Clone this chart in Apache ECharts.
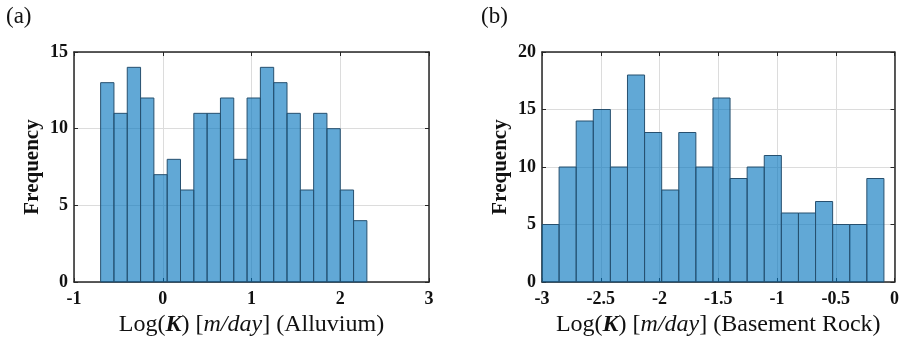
<!DOCTYPE html>
<html>
<head>
<meta charset="utf-8">
<script src="https://cdn.jsdelivr.net/npm/echarts@6/dist/echarts.min.js"></script>
<style>
  html, body { margin: 0; padding: 0; background: #fff; }
  #chart { width: 902px; height: 345px; }
</style>
</head>
<body>
<div id="chart"></div>
<script>
// histogram (a): alluvium
const alluviumBinStart = -0.7;
const alluviumBinWidth = 0.15;
const alluviumCounts = [13, 11, 14, 12, 7, 8, 6, 11, 11, 12, 8, 12, 14, 13, 11, 6, 11, 10, 6, 4];

// histogram (b): basement rock
const basementBinStart = -3.0;
const basementBinWidth = 0.1455;
const basementCounts = [5, 10, 14, 15, 10, 18, 13, 8, 13, 10, 16, 9, 10, 11, 6, 6, 7, 5, 5, 9];

const alluviumXTicks = [-1, 0, 1, 2, 3];
const basementXTicks = [-3, -2.5, -2, -1.5, -1, -0.5, 0];
const alluviumYTicks = [0, 5, 10, 15];
const basementYTicks = [0, 5, 10, 15, 20];

const serif = '"Liberation Serif", "DejaVu Serif", serif';

function toBins(start, width, counts) {
  return counts.map((c, i) => [start + i * width, start + (i + 1) * width, c]);
}

function renderBin(params, api) {
  const lo = api.coord([api.value(0), 0]);
  const hi = api.coord([api.value(1), api.value(2)]);
  return {
    type: 'rect',
    shape: { x: lo[0], y: hi[1], width: hi[0] - lo[0], height: lo[1] - hi[1] },
    style: { fill: 'rgba(0, 114, 189, 0.62)', stroke: '#27506f', lineWidth: 1 }
  };
}

function xAxes(gridIndex, ticks, name) {
  const base = {
    gridIndex,
    type: 'value',
    min: ticks[0],
    max: ticks[ticks.length - 1],
    interval: ticks[1] - ticks[0],
    axisLine: { show: true, onZero: false, lineStyle: { color: '#262626', width: 1.5 } },
    axisTick: { show: true, inside: true, length: 4, lineStyle: { color: '#262626' } }
  };
  return [
    Object.assign({}, base, {
      position: 'bottom',
      axisLabel: { fontFamily: serif, fontWeight: 'bold', fontSize: 18, color: '#111', margin: 8 },
      splitLine: { show: true, lineStyle: { color: '#dcdcdc', width: 1 } },
      name,
      nameLocation: 'middle',
      nameGap: 30,
      nameTextStyle: {
        fontFamily: serif, fontSize: 24, color: '#111',
        rich: {
          n: { fontFamily: serif, fontSize: 24, color: '#111' },
          k: { fontFamily: serif, fontSize: 24, color: '#111', fontWeight: 'bold', fontStyle: 'italic' },
          i: { fontFamily: serif, fontSize: 24, color: '#111', fontStyle: 'italic' }
        }
      }
    }),
    Object.assign({}, base, {
      position: 'top',
      z: 5,
      axisLabel: { show: false },
      splitLine: { show: false }
    })
  ];
}

function yAxes(gridIndex, ticks) {
  const base = {
    gridIndex,
    type: 'value',
    min: ticks[0],
    max: ticks[ticks.length - 1],
    interval: ticks[1] - ticks[0],
    axisLine: { show: true, onZero: false, lineStyle: { color: '#262626', width: 1.5 } },
    axisTick: { show: true, inside: true, length: 4, lineStyle: { color: '#262626' } }
  };
  return [
    Object.assign({}, base, {
      position: 'left',
      axisLabel: { fontFamily: serif, fontWeight: 'bold', fontSize: 18, color: '#111', margin: 6 },
      splitLine: { show: true, lineStyle: { color: '#dcdcdc', width: 1 } },
      name: 'Frequency',
      nameLocation: 'middle',
      nameRotate: 90,
      nameGap: 31,
      nameTextStyle: { fontFamily: serif, fontWeight: 'bold', fontSize: 21, color: '#111' }
    }),
    Object.assign({}, base, {
      position: 'right',
      z: 5,
      axisLabel: { show: false },
      splitLine: { show: false }
    })
  ];
}

const chart = echarts.init(document.getElementById('chart'), null, { renderer: 'canvas' });

const option = {
  animation: false,
  backgroundColor: '#fff',
  grid: [
    { left: 74, right: 473, top: 52, bottom: 63 },
    { left: 542, right: 4, top: 52, bottom: 63 }
  ],
  xAxis: [
    ...xAxes(0, alluviumXTicks, '{n|Log(}{k|K}{n|) [}{i|m/day}{n|] (Alluvium)}'),
    ...xAxes(1, basementXTicks, '{n|Log(}{k|K}{n|) [}{i|m/day}{n|] (Basement Rock)}')
  ],
  yAxis: [
    ...yAxes(0, alluviumYTicks),
    ...yAxes(1, basementYTicks)
  ],
  series: [
    {
      type: 'custom',
      xAxisIndex: 0,
      yAxisIndex: 0,
      renderItem: renderBin,
      encode: { x: [0, 1], y: 2 },
      data: toBins(alluviumBinStart, alluviumBinWidth, alluviumCounts)
    },
    {
      type: 'custom',
      xAxisIndex: 2,
      yAxisIndex: 2,
      renderItem: renderBin,
      encode: { x: [0, 1], y: 2 },
      data: toBins(basementBinStart, basementBinWidth, basementCounts)
    }
  ],
  graphic: [
    { type: 'text', left: 6, top: 5, style: { text: '(a)', font: '23px ' + serif, fill: '#111' } },
    { type: 'text', left: 481, top: 5, style: { text: '(b)', font: '23px ' + serif, fill: '#111' } }
  ]
};

chart.setOption(option);
</script>
</body>
</html>
